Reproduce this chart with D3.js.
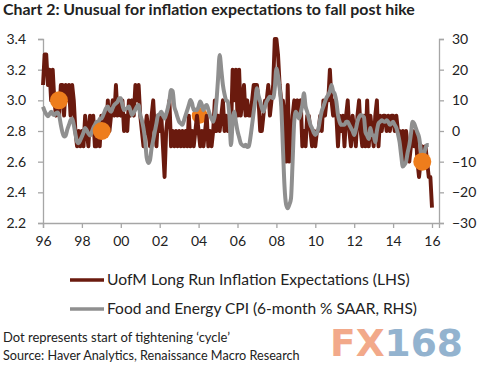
<!DOCTYPE html>
<html><head><meta charset="utf-8">
<script src="https://cdn.jsdelivr.net/npm/d3@7"></script>
<style>body{margin:0;background:#fff}svg{display:block}text{font-family:Lato,"Open Sans",sans-serif;fill:#222}</style>
</head><body>
<script>
// ---- data ----
const startYear = 1996; // monthly series starting Jan 1996
const uofmExpectations = [
 3.1,3.3,3.3,3.1,3.2,3.0,3.2,3.0,2.9,3.0,2.9,3.1,
 3.1,2.9,3.1,3.0,3.1,2.9,3.1,3.0,2.8,2.7,2.8,2.7,
 2.8,2.7,2.9,2.8,2.7,2.9,2.8,2.9,2.7,2.7,2.8,2.7,
 2.9,2.8,2.9,2.8,3.0,2.8,2.9,3.0,2.9,3.1,2.9,3.0,
 2.9,3.0,2.8,2.9,2.8,3.0,2.9,3.0,2.9,3.1,3.0,3.1,
 2.9,2.8,2.7,2.8,2.9,2.8,2.7,2.9,3.0,2.8,2.7,2.9,
 2.8,2.9,2.7,2.5,2.8,2.9,3.0,2.7,2.8,2.7,2.8,2.7,
 2.8,2.7,2.8,2.7,2.8,2.7,2.9,2.7,2.8,2.7,2.8,2.9,
 2.8,2.7,2.8,2.7,2.8,2.9,2.7,2.8,2.7,2.8,3.0,2.8,
 2.9,2.8,2.9,3.0,2.8,2.9,2.8,2.9,2.8,3.2,3.0,3.2,
 2.9,3.2,2.9,3.0,3.1,2.9,3.0,2.9,2.9,3.0,3.1,3.1,
 3.1,3.0,2.8,2.8,2.9,3.0,3.0,3.1,2.9,3.0,3.1,3.4,
 3.4,3.3,3.1,3.0,3.0,2.9,2.6,3.1,2.6,2.7,2.9,3.0,
 2.9,3.0,2.9,3.0,2.7,2.8,2.7,2.9,2.9,2.8,2.7,2.8,
 2.7,2.8,2.8,2.9,2.8,3.0,2.9,3.0,3.0,3.2,3.0,2.9,
 3.0,2.9,2.7,2.9,2.8,2.9,2.7,2.9,3.0,2.8,2.7,2.9,
 2.8,2.7,2.9,3.0,2.8,2.7,2.9,2.7,3.0,2.7,2.9,2.8,
 2.7,2.9,3.0,2.7,2.9,2.8,2.9,2.9,2.8,2.9,2.8,2.9,
 2.9,2.8,2.9,2.8,2.8,2.7,2.8,2.6,2.8,2.7,2.6,2.7,
 2.8,2.7,2.8,2.6,2.5,2.6,2.7,2.6,2.7,2.6,2.5,2.5,
 2.3];
const foodEnergyCPI = [
 7.9,6.5,5.5,4.8,5.5,6.3,5.5,5.2,5.8,6.0,5.0,2.0,
 -0.5,-1.8,-1.5,0.5,2.0,3.5,4.1,2.0,-1.0,-3.5,-4.0,-3.0,
 -1.8,-0.5,1.0,0.2,-0.8,-1.5,-0.5,1.0,2.0,3.0,2.5,4.0,
 4.0,5.0,6.3,7.5,8.0,6.8,6.3,7.5,8.5,9.0,9.5,10.7,
 10.7,8.5,6.8,7.2,7.5,8.0,6.5,5.2,6.0,7.0,8.0,8.5,
 5.2,3.5,0.9,-3.0,-8.8,-10.4,-9.5,-5.6,-3.0,-0.2,2.5,5.2,
 5.5,6.3,5.0,4.1,5.5,7.4,10.0,13.4,13.0,8.0,6.3,4.5,
 3.0,2.5,2.0,3.5,5.2,6.8,8.5,10.1,9.0,6.8,7.0,6.8,
 8.0,9.6,8.5,6.8,8.0,8.5,7.0,5.2,4.0,3.0,5.0,9.6,
 17.0,24.8,20.0,15.0,12.0,10.0,9.6,5.0,-4.6,3.0,6.3,3.0,
 0.0,-2.0,-4.0,-4.6,-5.0,-4.5,-5.2,-5.0,-2.0,2.0,6.3,10.0,
 13.9,11.5,9.6,7.5,6.3,8.0,9.6,10.5,11.2,11.0,10.7,14.0,
 20.4,18.0,14.0,8.0,-5.0,-18.0,-24.0,-25.2,-24.0,-22.0,-10.0,3.0,
 6.3,5.0,4.1,6.0,8.5,12.3,8.0,6.3,4.1,2.0,0.9,-0.5,
 -1.3,-0.5,1.0,4.0,6.5,8.0,9.6,11.0,11.8,13.0,15.0,13.0,
 12.0,9.6,5.2,3.0,2.0,2.0,2.0,3.0,3.0,2.0,1.0,0.0,
 -1.3,0.5,3.0,4.5,5.2,5.0,4.5,-0.5,-1.5,-2.6,1.0,-1.3,
 -1.5,-3.6,0.0,2.5,3.0,3.5,3.2,3.0,3.5,3.0,2.0,2.5,
 3.0,2.0,1.0,-1.0,-3.6,-8.0,-11.6,-11.0,-10.0,-7.0,-4.6,-1.0,
 3.0,2.5,1.0,-0.5,-2.0,-5.7,-10.0,-8.0,-5.5,-4.6,-4.6];
const dotDates = [1996.82, 1999.02, 2004.06, 2015.5];
const dotValues = [3.0, 2.8, 2.9, 2.6];
const leftTicks = [2.2, 2.4, 2.6, 2.8, 3.0, 3.2, 3.4];
const rightTicks = [-30, -20, -10, 0, 10, 20, 30];
const xTicks = [1996, 1998, 2000, 2002, 2004, 2006, 2008, 2010, 2012, 2014, 2016];
const xTickLabels = ["96","98","00","02","04","06","08","10","12","14","16"];
const title = "Chart 2: Unusual for inflation expectations to fall post hike";
const legendLabels = ["UofM Long Run Inflation Expectations (LHS)", "Food and Energy CPI (6-month % SAAR, RHS)"];
const notes = ["Dot represents start of tightening \u2018cycle\u2019", "Source: Haver Analytics, Renaissance Macro Research"];

// ---- drawing ----
const W = 487, H = 365;
const maroon = "#6a1a0e", grey = "#8f8f8f", orange = "#ee7d1c", axisCol = "#a6a6a6";
const svg = d3.select("body").append("svg").attr("width", W).attr("height", H);

const x = d3.scaleLinear().domain([1996, 2016.36]).range([43, 439]);
const yL = d3.scaleLinear().domain([2.2, 3.4]).range([223, 39]);
const yR = d3.scaleLinear().domain([-30, 30]).range([223, 39]);
const t = i => startYear + i / 12;

function fit(sel, w) {
  const n = sel.node(); const fs = parseFloat(sel.attr("font-size"));
  const cw = n.getComputedTextLength(); sel.attr("font-size", (fs * w / cw).toFixed(2));
}

// title
svg.append("text").attr("x", 3).attr("y", 15).attr("font-size", 15).attr("font-weight", "bold")
  .text(title).call(fit, 412);

// axes
const ax = g => { g.selectAll(".domain").attr("stroke", axisCol).attr("stroke-width", 1.3);
  g.selectAll(".tick line").attr("stroke", axisCol).attr("stroke-width", 1.3);
  g.selectAll(".tick text").attr("font-size", 14).attr("fill", "#222").style("font-family", "Lato"); };
svg.append("g").attr("transform", "translate(43,0)")
  .call(d3.axisLeft(yL).tickValues(leftTicks).tickFormat(d3.format(".1f")).tickSizeOuter(0).tickSize(5).tickPadding(12))
  .call(ax);
svg.append("g").attr("transform", "translate(439,0)")
  .call(d3.axisRight(yR).tickValues(rightTicks).tickFormat(d3.format("d")).tickSizeOuter(0).tickSize(5).tickPadding(8))
  .call(ax);
svg.append("g").attr("transform", "translate(0,223)")
  .call(d3.axisBottom(x).tickValues(xTicks).tickFormat((d, i) => xTickLabels[i]).tickSizeOuter(0).tickSize(5).tickPadding(8))
  .call(ax);

// dot 3 sits beneath lines
const dots = dotDates.map((d, i) => ({d, v: dotValues[i], i}));
svg.append("g").selectAll("circle").data(dots.filter(o => o.i === 2)).join("circle")
  .attr("cx", o => x(o.d)).attr("cy", o => yL(o.v)).attr("r", 8).attr("fill", orange);

svg.append("path").datum(uofmExpectations)
  .attr("d", d3.line().x((v, i) => x(t(i))).y(v => yL(v)))
  .attr("fill", "none").attr("stroke", maroon).attr("stroke-width", 3.9).attr("stroke-linejoin", "round");
svg.append("path").datum(foodEnergyCPI)
  .attr("d", d3.line().x((v, i) => x(t(i))).y(v => yR(v)).curve(d3.curveMonotoneX))
  .attr("fill", "none").attr("stroke", grey).attr("stroke-width", 4).attr("stroke-linejoin", "round");

svg.append("g").selectAll("circle").data(dots.filter(o => o.i !== 2)).join("circle")
  .attr("cx", o => x(o.d)).attr("cy", o => yL(o.v)).attr("r", 9).attr("fill", orange);

// legend
const legY = [280, 309];
[maroon, grey].forEach((c, i) => {
  svg.append("line").attr("x1", 70).attr("x2", 104).attr("y1", legY[i]).attr("y2", legY[i])
    .attr("stroke", c).attr("stroke-width", 3.6);
  svg.append("text").attr("x", 107).attr("y", legY[i] + 5).attr("font-size", 14.5)
    .text(legendLabels[i]).call(fit, i === 0 ? 303 : 310);
});

// notes
svg.append("text").attr("x", 3).attr("y", 342).attr("font-size", 12).text(notes[0]).call(fit, 227);
svg.append("text").attr("x", 3).attr("y", 360).attr("font-size", 12).text(notes[1]).call(fit, 297);

// watermark
const wm = svg.append("text").attr("x", 330).attr("y", 356).attr("font-size", 38)
  .attr("font-weight", "bold").style("font-family", "DejaVu Sans");
wm.append("tspan").text("FX").style("fill", "#f2a98a");
wm.append("tspan").text("168").style("fill", "#93b3cf");
wm.call(fit, 133);
</script>
</body></html>
